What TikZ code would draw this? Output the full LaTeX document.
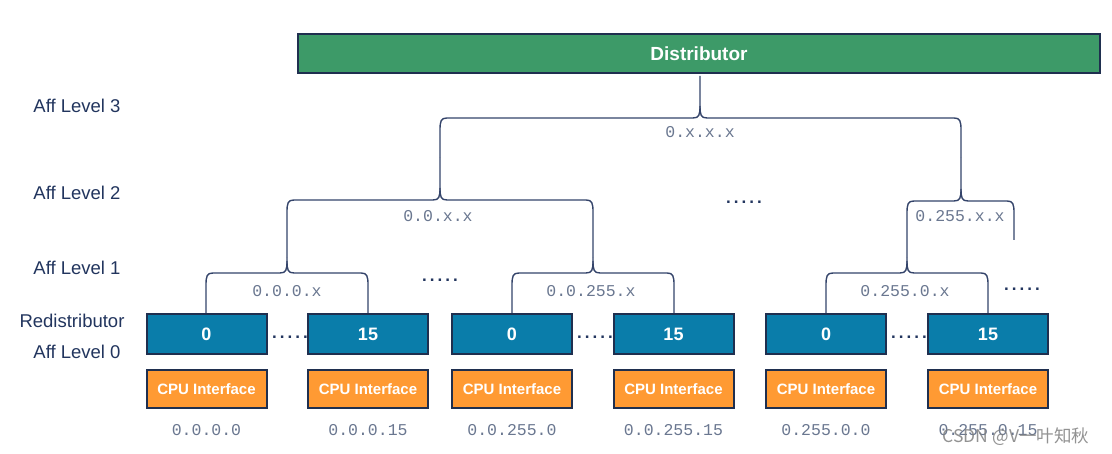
\documentclass[tikz,border=0pt]{standalone}
\usepackage{fontspec}
\setmainfont{Liberation Sans}
\setmonofont{Liberation Mono}
\newfontfamily\cjk{Noto Sans CJK SC}
\newfontfamily\dotfont[LetterSpace=18]{Liberation Sans}
\definecolor{navy}{HTML}{1F2F4F}
\definecolor{lvl}{HTML}{22355E}
\definecolor{brcol}{HTML}{34446A}
\definecolor{gr}{HTML}{3D9A68}
\definecolor{bl}{HTML}{0A7DAA}
\definecolor{og}{HTML}{FF9A33}
\definecolor{mono}{HTML}{6A7790}
\tikzset{
  brc/.style={draw=brcol, line width=1.4pt},
  distbox/.style={draw=navy, line width=2pt, fill=gr, minimum width=802, minimum height=39, inner sep=0pt,
    text=white, font=\bfseries\fontsize{19}{21}\selectfont},
  redbox/.style={draw=navy, line width=2pt, fill=bl, minimum width=120, minimum height=40, inner sep=0pt,
    text=white, font=\bfseries\fontsize{18}{20}\selectfont},
  cpubox/.style={draw=navy, line width=2pt, fill=og, minimum width=120, minimum height=38, inner sep=0pt,
    text=white, font=\bfseries\fontsize{15}{17}\selectfont},
  lvltxt/.style={text=lvl, font=\fontsize{18.5}{20}\selectfont, inner sep=0pt},
  addr/.style={text=mono, font=\ttfamily\fontsize{16.5}{18}\selectfont, inner sep=0pt},
  dots/.style={text=lvl, font=\dotfont\bfseries\fontsize{17}{19}\selectfont, inner sep=0pt},
}
% #1 left arm x, #2 tip x, #3 right arm x, #4 tip top y, #5 horizontal y, #6 left arm bottom y, #7 right arm bottom y
\newcommand{\mybrace}[7]{%
  \draw[brc] (#1,#6) -- (#1,#5+12) .. controls (#1,#5+3) and (#1+1,#5) .. (#1+7,#5)
    -- (#2-7,#5) .. controls (#2-1,#5) and (#2,#5-3) .. (#2,#5-12) -- (#2,#4);
  \draw[brc] (#3,#7) -- (#3,#5+12) .. controls (#3,#5+3) and (#3-1,#5) .. (#3-7,#5)
    -- (#2+7,#5) .. controls (#2+1,#5) and (#2,#5-3) .. (#2,#5-12);
}
\begin{document}
\begin{tikzpicture}[x=1pt,y=-1pt]
\useasboundingbox (0,0) rectangle (1112,454);
\fill[white] (0,0) rectangle (1112,454);

% distributor
\node[distbox] (dist) at (699,53.5) {Distributor};

% level labels
\node[lvltxt] (l3) at (77,106) {Aff Level 3};
\node[lvltxt] (l2) at (77,193) {Aff Level 2};
\node[lvltxt] (l1) at (77,268) {Aff Level 1};
\node[lvltxt] (l0a) at (72,321) {Redistributor};
\node[lvltxt] (l0b) at (77,352) {Aff Level 0};

% braces
\mybrace{440}{700}{961}{76}{118}{158}{158}
\mybrace{287}{440}{593}{158}{200}{258}{258}
\mybrace{907}{961}{1014}{158}{201}{258}{240}
\mybrace{206}{287}{368}{258}{273}{314}{314}
\mybrace{512}{593}{674}{258}{273}{314}{314}
\mybrace{826}{907}{988}{258}{273}{314}{314}

% brace labels
\node[addr] (a3) at (700,132) {0.x.x.x};
\node[addr] (a2a) at (438,216) {0.0.x.x};
\node[addr] (a2b) at (960,216) {0.255.x.x};
\node[addr] (a1a) at (287,291) {0.0.0.x};
\node[addr] (a1b) at (591,291) {0.0.255.x};
\node[addr] (a1c) at (905,291) {0.255.0.x};

\node[dots] (d1) at (744,202) {.....};
\node[dots] (d2) at (440,280) {.....};
\node[dots] (d3) at (1022,289) {.....};

% redistributors and CPU interfaces
\foreach \n/\x/\t/\a in {1/206.5/0/0.0.0.0, 2/368/15/0.0.0.15, 3/512/0/0.0.255.0, 4/673.5/15/0.0.255.15, 5/826/0/0.255.0.0, 6/988/15/0.255.0.15}{
  \node[redbox] (r\n) at (\x,334.5) {\t};
  \node[cpubox] (c\n) at (\x,389) {CPU Interface};
  \node[addr] (ad\n) at (\x,430) {\a};
}
\node[dots] (e1) at (290,337) {.....};
\node[dots] (e2) at (595,337) {.....};
\node[dots] (e3) at (909,337) {.....};

% watermark
\node[text=gray, opacity=0.85, font=\cjk\fontsize{17.5}{19}\selectfont, inner sep=0pt] (wm) at (1016,437) {CSDN @V一叶知秋};
\end{tikzpicture}
\end{document}
